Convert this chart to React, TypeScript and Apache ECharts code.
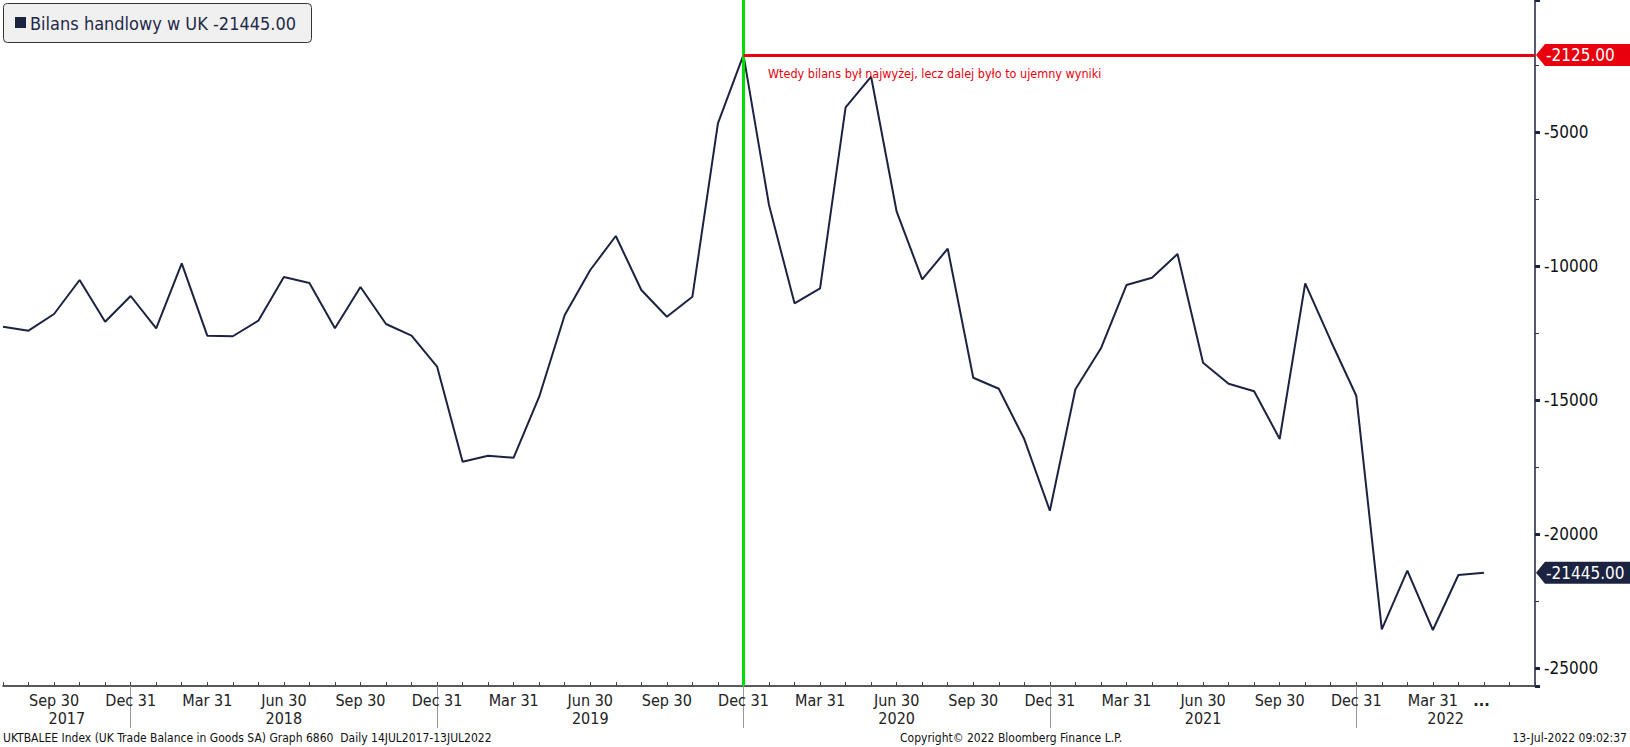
import React, { useEffect, useRef } from 'react';
import * as echarts from 'echarts';

const FONT = "'DejaVu Sans Condensed', 'DejaVu Sans', sans-serif";

// Monthly categories (axis runs from Jul 2017 to Jul 2022)
const months: string[] = [
  'Jul 2017', 'Aug 2017', 'Sep 2017', 'Oct 2017', 'Nov 2017', 'Dec 2017',
  'Jan 2018', 'Feb 2018', 'Mar 2018', 'Apr 2018', 'May 2018', 'Jun 2018',
  'Jul 2018', 'Aug 2018', 'Sep 2018', 'Oct 2018', 'Nov 2018', 'Dec 2018',
  'Jan 2019', 'Feb 2019', 'Mar 2019', 'Apr 2019', 'May 2019', 'Jun 2019',
  'Jul 2019', 'Aug 2019', 'Sep 2019', 'Oct 2019', 'Nov 2019', 'Dec 2019',
  'Jan 2020', 'Feb 2020', 'Mar 2020', 'Apr 2020', 'May 2020', 'Jun 2020',
  'Jul 2020', 'Aug 2020', 'Sep 2020', 'Oct 2020', 'Nov 2020', 'Dec 2020',
  'Jan 2021', 'Feb 2021', 'Mar 2021', 'Apr 2021', 'May 2021', 'Jun 2021',
  'Jul 2021', 'Aug 2021', 'Sep 2021', 'Oct 2021', 'Nov 2021', 'Dec 2021',
  'Jan 2022', 'Feb 2022', 'Mar 2022', 'Apr 2022', 'May 2022', 'Jun 2022',
  'Jul 2022',
];

// UK trade balance in goods (GBP mn), Jul 2017 .. May 2022
const values: number[] = [
  -12265, -12414, -11791, -10522, -12078, -11119,
  -12324, -9899, -12600, -12620, -12041, -10410,
  -10634, -12324, -10784, -12164, -12600, -13750,
  -17302, -17078, -17152, -14876, -11828, -10149,
  -8881, -10895, -11892, -11145, -4676, -2125,
  -7724, -11392, -10832, -4079, -2937, -7974,
  -10496, -9355, -14168, -14578, -16466, -19130,
  -14600, -13071, -10709, -10437, -9552, -13608,
  -14391, -14675, -16455, -10645, -12787, -14839,
  -23555, -21368, -23581, -21529, -21445,
];

const quarterEndLabels: Record<string, string> = {
  Mar: 'Mar 31', Jun: 'Jun 30', Sep: 'Sep 30', Dec: 'Dec 31',
};
const truncatedMonth = 'Jun 2022';
const yearLabels = ['2017', '2018', '2019', '2020', '2021', '2022'];
const yTickLabels = [-25000, -20000, -15000, -10000, -5000];

const peakMonth = 'Dec 2019';
const peakValue = -2125;
const lastValue = values[values.length - 1];
const lastMonth = months[months.length - 1];

const legendText = `Bilans handlowy w UK ${lastValue.toFixed(2)}`;
const noteText = 'Wtedy bilans był najwyżej, lecz dalej było to ujemny wyniki';
const footerLeft = 'UKTBALEE Index (UK Trade Balance in Goods SA) Graph 6860  Daily 14JUL2017-13JUL2022';
const footerMid = 'Copyright© 2022 Bloomberg Finance L.P.';
const footerRight = '13-Jul-2022 09:02:37';

const yearCenters = yearLabels.map((y) => {
  const decPrev = months.indexOf(`Dec ${Number(y) - 1}`);
  const decThis = months.indexOf(`Dec ${y}`);
  const start = decPrev < 0 ? 0 : decPrev;
  const end = decThis < 0 ? months.length - 1 : decThis;
  return (start + end) / 2;
});

const monthLabel = (v: string) => {
  if (v === truncatedMonth) return '{d|...}';
  const m = v.slice(0, 3);
  return quarterEndLabels[m] || '';
};

const NAVY = '#1c2340';
const RED = '#e8000d';

export default function App() {
  const ref = useRef<HTMLDivElement>(null);
  useEffect(() => {
    document.body.style.margin = '0';
    const chart = echarts.init(ref.current!, null, { renderer: 'svg' });
    const option: any = {
      animation: false,
      backgroundColor: '#ffffff',
      grid: { left: 0, right: 95, top: 0, bottom: 61, containLabel: false },
      xAxis: [
        {
          type: 'category',
          data: months,
          boundaryGap: false,
          position: 'bottom',
          axisLine: { show: true, onZero: false, lineStyle: { color: '#222', width: 1.5 } },
          axisTick: { show: true, inside: true, length: 4, interval: 0, lineStyle: { color: '#444', width: 1 } },
          axisLabel: {
            interval: (_i: number, v: string) => monthLabel(v) !== '',
            formatter: (v: string) => monthLabel(v),
            fontSize: 16,
            color: '#222',
            fontFamily: FONT,
            margin: 6,
            rich: { d: { fontSize: 16, fontWeight: 'bold', color: '#222', fontFamily: FONT, padding: [0, 56, 0, 0] } },
          },
          splitLine: { show: false },
        },
        {
          type: 'value',
          min: 0,
          max: months.length - 1,
          interval: 0.5,
          position: 'bottom',
          axisLine: { show: false, onZero: false },
          axisTick: { show: false },
          splitLine: { show: false },
          axisLabel: {
            margin: 24,
            fontSize: 16,
            color: '#222',
            fontFamily: FONT,
            showMinLabel: true,
            showMaxLabel: true,
            formatter: (v: number) => {
              const k = yearCenters.findIndex((c) => Math.abs(c - v) < 1e-6);
              return k >= 0 ? yearLabels[k] : '';
            },
          },
        },
        {
          type: 'category',
          data: months,
          boundaryGap: false,
          position: 'bottom',
          axisLine: { show: false, onZero: false },
          axisLabel: { show: false },
          splitLine: { show: false },
          axisTick: {
            show: true,
            length: 42,
            interval: (_i: number, v: string) => v.startsWith('Dec'),
            lineStyle: { color: '#999', width: 1 },
          },
        },
      ],
      yAxis: {
        type: 'value',
        position: 'right',
        min: -25670,
        max: -75,
        splitLine: { show: false },
        axisLine: { show: true, onZero: false, lineStyle: { color: NAVY, width: 1.5 } },
        axisTick: { show: true, length: 5, lineStyle: { color: NAVY, width: 3 } },
        minorTick: { show: true, splitNumber: 2, length: 4, lineStyle: { color: '#333', width: 1 } },
        axisLabel: {
          color: '#111',
          fontSize: 17,
          fontFamily: FONT,
          margin: 9,
          formatter: (v: number) => (yTickLabels.indexOf(v) >= 0 ? String(v) : ''),
        },
      },
      series: [
        {
          type: 'line',
          data: values,
          xAxisIndex: 0,
          yAxisIndex: 0,
          symbol: 'none',
          showSymbol: false,
          clip: false,
          lineStyle: { color: NAVY, width: 2 },
          itemStyle: { color: NAVY },
          z: 2,
          markLine: {
            silent: true,
            symbol: 'none',
            label: { show: false },
            emphasis: { disabled: true },
            data: [
              { xAxis: peakMonth, lineStyle: { color: '#00e000', width: 3, type: 'solid' } },
              [
                { coord: [peakMonth, peakValue], lineStyle: { color: RED, width: 3, type: 'solid' } },
                { coord: [lastMonth, peakValue], lineStyle: { color: RED, width: 3, type: 'solid' } },
              ],
            ],
          },
          markPoint: {
            silent: true,
            symbol: 'path://M0,11L9,0L96,0L96,22L9,22Z',
            symbolSize: [96, 22],
            symbolKeepAspect: false,
            symbolOffset: [49, 0],
            label: {
              show: true,
              position: [10, 11],
              align: 'left',
              verticalAlign: 'middle',
              color: '#ffffff',
              fontSize: 17,
              fontFamily: FONT,
              formatter: (p: any) => p.name,
            },
            data: [
              { name: peakValue.toFixed(2), coord: [lastMonth, peakValue], itemStyle: { color: RED } },
              { name: lastValue.toFixed(2), coord: [lastMonth, lastValue], itemStyle: { color: NAVY } },
            ],
          },
        },
      ],
      graphic: [
        {
          type: 'rect',
          shape: { x: 3.5, y: 3.5, width: 308, height: 39, r: 4 },
          style: { fill: '#f0f0f0', stroke: '#333', lineWidth: 1 },
          z: 10,
        },
        {
          type: 'rect',
          shape: { x: 15, y: 17, width: 11, height: 11 },
          style: { fill: NAVY },
          z: 11,
        },
        {
          type: 'text',
          x: 30,
          y: 23,
          style: { text: legendText, fontSize: 18, fill: '#1f2a48', fontFamily: FONT, align: 'left', verticalAlign: 'middle' },
          z: 11,
        },
        {
          type: 'text',
          x: 768,
          y: 73,
          style: { text: noteText, fontSize: 12.5, fill: RED, fontFamily: FONT, align: 'left', verticalAlign: 'middle' },
          z: 11,
        },
        {
          type: 'text',
          x: 3,
          y: 738,
          style: { text: footerLeft, fontSize: 12, fill: '#111', fontFamily: FONT, align: 'left', verticalAlign: 'middle' },
        },
        {
          type: 'text',
          x: 900,
          y: 738,
          style: { text: footerMid, fontSize: 12, fill: '#111', fontFamily: FONT, align: 'left', verticalAlign: 'middle' },
        },
        {
          type: 'text',
          x: 1627,
          y: 738,
          style: { text: footerRight, fontSize: 12, fill: '#111', fontFamily: FONT, align: 'right', verticalAlign: 'middle' },
        },
      ],
    };
    chart.setOption(option);
    return () => chart.dispose();
  }, []);
  return (
    <div
      ref={ref}
      style={{ position: 'absolute', left: 0, top: 0, width: 1630, height: 747, background: '#fff' }}
    />
  );
}
